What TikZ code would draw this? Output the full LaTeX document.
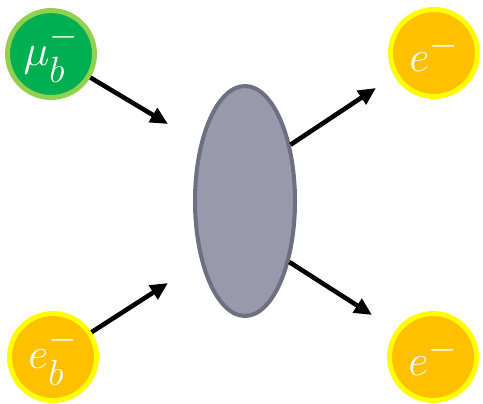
\documentclass[tikz,border=0pt]{standalone}
\usepackage{amsmath}
\usetikzlibrary{shapes.geometric,arrows.meta}
\definecolor{PartGreen}{RGB}{0,176,80}
\definecolor{PartLightGreen}{RGB}{146,208,80}
\definecolor{PartOrange}{RGB}{255,192,0}
\definecolor{PartYellow}{RGB}{255,255,0}
\definecolor{BlobGrey}{RGB}{152,153,170}
\definecolor{BlobEdge}{RGB}{110,111,128}

\begin{document}
\begin{tikzpicture}[>={Triangle[length=10pt,width=9pt]},x=0.02cm,y=-0.02cm,
    particle/.style={circle,line width=2.8pt,minimum size=1.74cm,inner sep=0pt,text=white,font=\fontsize{28}{32}\selectfont},
    muon/.style={particle,draw=PartLightGreen,fill=PartGreen},
    electron/.style={particle,draw=PartYellow,fill=PartOrange},
    leg/.style={->,line width=2.6pt}]
      \useasboundingbox (0,0) rectangle (483,403);
      \node[muon] (mu) at (51,54) {$\mu_b^-$};
      \node[electron] (eb) at (53,357) {$e_b^-$};
      \node[electron] (eout1) at (434,53) {$e^-$};
      \node[electron] (eout2) at (433,357) {$e^-$};
      \node[ellipse,draw=BlobEdge,fill=BlobGrey,line width=2.3pt,minimum width=2cm,minimum height=4.6cm,inner sep=0pt] (blob) at (245,201) {};
      \coordinate (muin) at (168,124);
      \coordinate (ebin) at (168,283);
      \coordinate (out1) at (376,88);
      \coordinate (out2) at (372,315);
      \draw[leg] (mu) -- (muin);
      \draw[leg] (eb) -- (ebin);
      \draw[leg] (blob.51) -- (out1);
      \draw[leg] (blob.-54) -- (out2);
    \end{tikzpicture}
\end{document}
